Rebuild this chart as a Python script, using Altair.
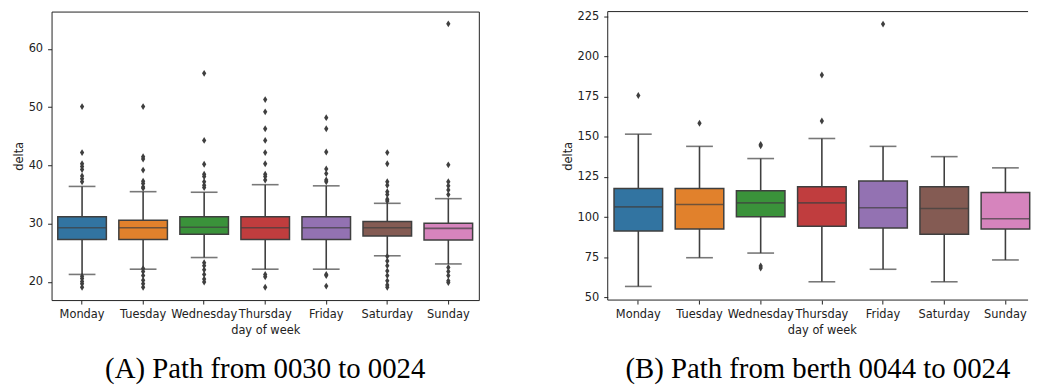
import altair as alt
import pandas as pd

days = ["Monday", "Tuesday", "Wednesday", "Thursday", "Friday", "Saturday", "Sunday"]
colors = ["#3274a1", "#e1812c", "#3a923a", "#c03d3e", "#9372b2", "#845b53", "#d684bd"]

# Panel A: path from 0030 to 0024
a_q1 = [27.3, 27.3, 28.2, 27.3, 27.3, 27.9, 27.2]
a_med = [29.3, 29.3, 29.4, 29.3, 29.3, 29.3, 29.2]
a_q3 = [31.2, 30.6, 31.2, 31.2, 31.2, 30.4, 30.1]
a_lo = [21.3, 22.2, 24.2, 22.2, 22.2, 24.5, 23.1]
a_hi = [36.4, 35.5, 35.4, 36.7, 36.5, 33.5, 34.3]
a_out_mon = [50.1, 42.2, 40.3, 39.8, 39.3, 38.2, 37.7, 37.2, 21.0, 20.6, 20.1, 19.7, 19.1]
a_out_tue = [50.1, 41.5, 41.1, 39.2, 37.3, 36.9, 36.3, 36.1, 22.3, 21.8, 21.1, 20.3, 19.7, 19.1]
a_out_wed = [55.8, 44.3, 40.2, 38.5, 38.1, 37.2, 36.6, 36.2, 23.3, 22.8, 22.1, 21.3, 20.5, 20.0]
a_out_thu = [51.3, 49.2, 46.3, 44.3, 42.2, 40.3, 38.5, 38.1, 37.5, 21.3, 20.9, 19.1]
a_out_fri = [48.2, 46.3, 42.3, 39.4, 38.6, 37.5, 37.2, 21.3, 21.1, 19.3]
a_out_sat = [42.2, 40.3, 37.2, 36.6, 35.5, 35.0, 34.2, 33.9, 24.4, 23.6, 22.8, 21.9, 21.1, 20.2, 19.5, 19.1]
a_out_sun = [64.3, 40.1, 37.2, 36.5, 35.8, 35.0, 22.5, 21.8, 21.1, 20.2, 19.9]
a_outliers = [a_out_mon, a_out_tue, a_out_wed, a_out_thu, a_out_fri, a_out_sat, a_out_sun]
a_ticks = [20, 30, 40, 50, 60]

# Panel B: path from berth 0044 to 0024
b_q1 = [91.4, 92.6, 100.2, 94.3, 93.2, 89.3, 92.6]
b_med = [106.4, 107.9, 108.9, 108.9, 105.8, 105.4, 99.0]
b_q3 = [117.9, 117.9, 116.5, 119.0, 122.5, 119.0, 115.3]
b_lo = [56.8, 74.7, 77.6, 59.7, 67.5, 59.7, 73.3]
b_hi = [151.7, 144.1, 136.5, 149.0, 144.1, 137.7, 130.7]
b_outliers = [[175.8], [158.5], [145.3, 144.5, 69.5, 68.3], [188.6, 159.9], [220.3], [], []]
b_ticks = [50, 75, 100, 125, 150, 175, 200, 225]

EDGE = "#3f3f3f"
DIAMOND = "M0,-1L0.62,0L0,1L-0.62,0Z"


def panel(q1, med, q3, lo, hi, outliers, ydom, yticks, width, xrange, caption, framed):
    box = pd.DataFrame({"day": days, "q1": q1, "med": med, "q3": q3, "lo": lo, "hi": hi})
    out = pd.DataFrame(
        [{"day": d, "v": v} for d, vals in zip(days, outliers) for v in vals]
    )
    xs = alt.Scale(domain=days, range=xrange, paddingInner=0, paddingOuter=0)
    x = alt.X("day:N", sort=days, scale=xs,
              axis=alt.Axis(title="day of week", labelAngle=0, domain=False))
    ys = alt.Scale(domain=ydom, nice=False, zero=False)
    yax = alt.Axis(title="delta", values=yticks, domain=False)
    color = alt.Color("day:N", scale=alt.Scale(domain=days, range=colors), legend=None)

    base = alt.Chart(box)
    whisk = base.mark_rule(color=EDGE, strokeWidth=1.6).encode(
        x=x, y=alt.Y("lo:Q", scale=ys, axis=yax), y2="hi:Q")
    cap_lo = base.mark_tick(size=27, thickness=1.6, color=EDGE).encode(
        x=x, y=alt.Y("lo:Q", scale=ys, axis=yax))
    cap_hi = base.mark_tick(size=27, thickness=1.6, color=EDGE).encode(
        x=x, y=alt.Y("hi:Q", scale=ys, axis=yax))
    boxes = base.mark_bar(size=49, stroke=EDGE, strokeWidth=1.5, opacity=1).encode(
        x=x, y=alt.Y("q1:Q", scale=ys, axis=yax), y2="q3:Q", color=color)
    median = base.mark_tick(size=49, thickness=1.6, color=EDGE).encode(
        x=x, y=alt.Y("med:Q", scale=ys, axis=yax))
    pts = alt.Chart(out).mark_point(shape=DIAMOND, filled=True, size=48,
                                    color=EDGE, opacity=1).encode(
        x=x, y=alt.Y("v:Q", scale=ys, axis=yax))
    layers = [whisk, cap_lo, cap_hi, boxes, median, pts]
    props = dict(width=width, height=291,
                 title=alt.TitleParams(caption, orient="bottom", anchor="middle",
                                       font="Liberation Serif", fontSize=29,
                                       fontWeight="normal", color="#000", offset=20))
    if not framed:
        frame = pd.DataFrame({"k": [0]})
        fb = alt.Chart(frame).mark_rule(color="#222", strokeWidth=1)
        layers += [fb.encode(y=alt.value(0)), fb.encode(y=alt.value(291)),
                   fb.encode(x=alt.value(0))]
        props["view"] = alt.ViewBackground(stroke="transparent")
    return alt.layer(*layers).properties(**props)


left = panel(a_q1, a_med, a_q3, a_lo, a_hi, a_outliers, [16.9, 66.4], a_ticks,
             431, [0, 431], "(A) Path from 0030 to 0024", True)
right = panel(b_q1, b_med, b_q3, b_lo, b_hi, b_outliers, [48.3, 228.1], b_ticks,
              424, [0, 432], "(B) Path from berth 0044 to 0024", False)

chart = alt.hconcat(left, right, spacing=130, bounds="flush").properties(
    padding={"left": 12, "top": 8, "right": 0, "bottom": 0}
).configure_view(stroke="#222", strokeWidth=1).configure_axis(
    labelFont="DejaVu Sans", titleFont="DejaVu Sans", labelFontSize=11.5,
    titleFontSize=11.5, titleFontWeight="normal", labelColor="#222",
    titleColor="#222", tickColor="#222", tickSize=4, labelPadding=5,
    titlePadding=4, grid=False
)

chart.save("out.html", embed_options={"renderer": "svg", "actions": False})
